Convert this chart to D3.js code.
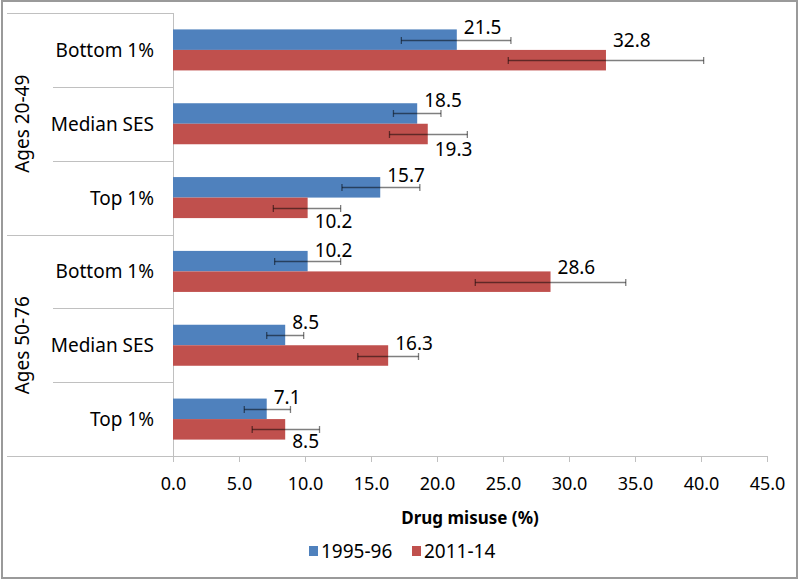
<!DOCTYPE html>
<html>
<head>
<meta charset="utf-8">
<script src="https://cdn.jsdelivr.net/npm/d3@7"></script>
<style>
  html, body { margin: 0; padding: 0; background: #fff; }
  text { font-family: "Noto Sans", "Open Sans", sans-serif; fill: #000; }
</style>
</head>
<body>
<div id="container"></div>
<script>
// data
const groups = ["Ages 20-49", "Ages 50-76"];
const categories = ["Bottom 1%", "Median SES", "Top 1%"];
const seriesNames = ["1995-96", "2011-14"];
// values in group order, category order
const values9596 = [21.5, 18.5, 15.7, 10.2, 8.5, 7.1];
const values1114 = [32.8, 19.3, 10.2, 28.6, 16.3, 8.5];
// error bar ends (low, high)
const low9596  = [17.3, 16.7, 12.8, 7.7, 7.1, 5.4];
const high9596 = [25.6, 20.3, 18.7, 12.7, 9.9, 8.9];
const low1114  = [25.4, 16.4, 7.6, 22.9, 14.0, 6.0];
const high1114 = [40.2, 22.3, 12.7, 34.3, 18.6, 11.1];
const xTicks = [0, 5, 10, 15, 20, 25, 30, 35, 40, 45];

// layout
const w = 800, h = 580;
const plotLeft = 173, plotRight = 767, plotTop = 13, plotBottom = 456;
const colors = ["#4F81BD", "#C0504D"];
// label nudges (px above/below bar centre), hand placed in the original
const labelDy = [[-14, -14, -13, -12, -14, -13], [-21, 14, 12, -16, -14, 11]];

const svg = d3.select("#container").append("svg")
  .attr("width", w).attr("height", h);

// outer frame
svg.append("rect")
  .attr("x", 2).attr("y", 1).attr("width", 795).attr("height", 577)
  .attr("fill", "none").attr("stroke", "#9a9a9a").attr("stroke-width", 2);

const rows = [];
groups.forEach((g, gi) => categories.forEach((c, ci) => rows.push(g + "|" + c)));

const x = d3.scaleLinear().domain([0, 45]).range([plotLeft, plotRight]);
const y = d3.scaleBand().domain(rows).range([plotTop, plotBottom]).paddingInner(0).paddingOuter(0);
const inner = d3.scaleBand().domain(seriesNames).range([0, y.bandwidth()])
  .paddingInner(0).paddingOuter(0.8);

const gridColor = "#c0c0c0";

// category separators
const sep = svg.append("g").attr("stroke", gridColor).attr("stroke-width", 1);
rows.forEach((r, i) => {
  const yy = Math.round(y(r)) + 0.5;
  const isGroup = i % categories.length === 0;
  sep.append("line").attr("x1", isGroup ? 7 : 53).attr("x2", plotLeft)
    .attr("y1", yy).attr("y2", yy);
});

// x axis
const xAxis = d3.axisBottom(x).tickValues(xTicks).tickFormat(d3.format(".1f"))
  .tickSize(6).tickPadding(15);
const xg = svg.append("g").attr("transform", "translate(0," + plotBottom + ")").call(xAxis);
xg.select(".domain").remove();
xg.selectAll(".tick line").attr("stroke", gridColor);
xg.selectAll(".tick text").style("font-size", "18px").attr("fill", "#000");
svg.append("line").attr("x1", 7).attr("x2", plotRight)
  .attr("y1", plotBottom + 0.5).attr("y2", plotBottom + 0.5).attr("stroke", gridColor);
svg.append("line").attr("x1", plotLeft + 0.5).attr("x2", plotLeft + 0.5)
  .attr("y1", plotTop).attr("y2", plotBottom).attr("stroke", gridColor);

// category labels
svg.append("g").selectAll("text").data(rows).enter().append("text")
  .attr("x", 154)
  .attr("y", d => y(d) + y.bandwidth() / 2)
  .attr("text-anchor", "end").attr("dominant-baseline", "central")
  .style("font-size", "19px")
  .text(d => d.split("|")[1]);

// group labels
svg.append("g").selectAll("text").data(groups).enter().append("text")
  .attr("transform", (d, i) => {
    const y0 = y(rows[i * categories.length]);
    const y1 = y(rows[i * categories.length + categories.length - 1]) + y.bandwidth();
    return "translate(22," + (y0 + y1) / 2 + ") rotate(-90)";
  })
  .attr("text-anchor", "middle").attr("dominant-baseline", "central")
  .style("font-size", "19px")
  .text(d => d);

// bars
const series = [
  { name: seriesNames[0], vals: values9596, lo: low9596, hi: high9596 },
  { name: seriesNames[1], vals: values1114, lo: low1114, hi: high1114 }
];

series.forEach((s, si) => {
  const g = svg.append("g");
  g.selectAll("rect").data(s.vals).enter().append("rect")
    .attr("x", x(0))
    .attr("y", (d, i) => y(rows[i]) + inner(s.name))
    .attr("width", d => x(d) - x(0))
    .attr("height", inner.bandwidth())
    .attr("fill", colors[si]);
});

// error bars and labels
series.forEach((s, si) => {
  const eg = svg.append("g").attr("stroke", "#000").attr("stroke-opacity", 0.5).attr("stroke-width", 1.3);
  s.vals.forEach((v, i) => {
    const cy = Math.round(y(rows[i]) + inner(s.name) + inner.bandwidth() / 2) + 0.5;
    eg.append("line").attr("x1", x(s.lo[i])).attr("x2", x(s.hi[i])).attr("y1", cy).attr("y2", cy);
    [s.lo[i], s.hi[i]].forEach(e => {
      eg.append("line").attr("x1", x(e)).attr("x2", x(e)).attr("y1", cy - 3.5).attr("y2", cy + 3.5);
    });
    svg.append("text")
      .attr("x", x(v) + 7)
      .attr("y", cy + labelDy[si][i])
      .attr("dominant-baseline", "central")
      .style("font-size", "19px")
      .text(d3.format(".1f")(v));
  });
});

// axis title
svg.append("text")
  .attr("x", (plotLeft + plotRight) / 2).attr("y", 517)
  .attr("text-anchor", "middle").attr("dominant-baseline", "central")
  .style("font-size", "17px").style("font-weight", "bold")
  .text("Drug misuse (%)");

// legend
const legend = svg.append("g").attr("transform", "translate(309,551)");
const legendX = [0, 103];
seriesNames.forEach((n, i) => {
  legend.append("rect").attr("x", legendX[i]).attr("y", -5).attr("width", 9).attr("height", 10)
    .attr("fill", colors[i]);
  legend.append("text").attr("x", legendX[i] + 12).attr("y", 0)
    .attr("dominant-baseline", "central").style("font-size", "19px").text(n);
});
</script>
</body>
</html>
